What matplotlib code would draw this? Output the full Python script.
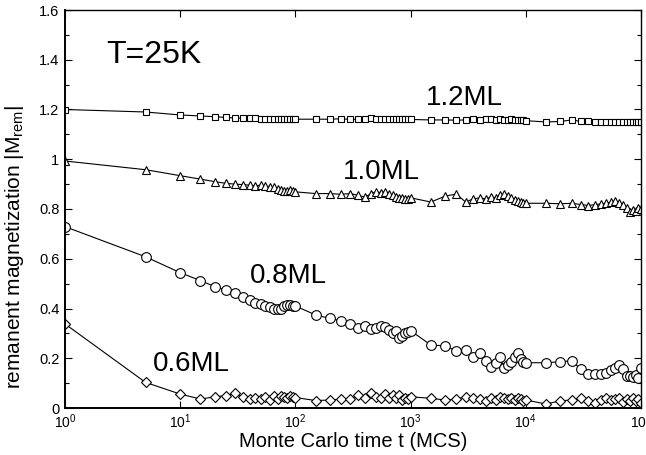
import matplotlib
matplotlib.use("Agg")
import matplotlib.pyplot as plt
from matplotlib.ticker import MultipleLocator, FuncFormatter, LogLocator, NullLocator

plt.rcParams['font.family'] = ['Liberation Sans', 'DejaVu Sans']
plt.rcParams['mathtext.fontset'] = 'custom'
plt.rcParams['mathtext.rm'] = 'Liberation Sans'
plt.rcParams['mathtext.it'] = 'Liberation Sans:italic'
plt.rcParams['mathtext.bf'] = 'Liberation Sans:bold'

# Monte Carlo time (MCS)
t = [1, 5, 10, 15, 20, 25, 30, 35, 40, 45, 50, 55, 60, 65, 70, 75, 80, 85, 90, 95, 100,
     150, 200, 250, 300, 350, 400, 450, 500, 550, 600, 650, 700, 750, 800, 850, 900, 950, 1000,
     1500, 2000, 2500, 3000, 3500, 4000, 4500, 5000, 5500, 6000, 6500, 7000, 7500, 8000, 8500, 9000, 9500, 10000,
     15000, 20000, 25000, 30000, 35000, 40000, 45000, 50000, 55000, 60000, 65000, 70000, 75000, 80000, 85000, 90000, 95000, 100000]

m12 = [1.200, 1.190, 1.178, 1.174, 1.171, 1.168, 1.166, 1.165, 1.164, 1.164, 1.163, 1.163, 1.162, 1.163, 1.162, 1.161, 1.162, 1.162, 1.161, 1.162, 1.161,
       1.161, 1.161, 1.163, 1.160, 1.161, 1.160, 1.166, 1.162, 1.161, 1.160, 1.162, 1.161, 1.160, 1.162, 1.161, 1.160, 1.161, 1.160,
       1.158, 1.158, 1.157, 1.158, 1.160, 1.158, 1.162, 1.160, 1.158, 1.160, 1.159, 1.157, 1.160, 1.158, 1.156, 1.157, 1.158, 1.155,
       1.150, 1.152, 1.158, 1.152, 1.152, 1.150, 1.150, 1.149, 1.151, 1.150, 1.149, 1.150, 1.148, 1.150, 1.149, 1.150, 1.148, 1.150]

m10 = [0.993, 0.958, 0.934, 0.920, 0.910, 0.903, 0.900, 0.898, 0.896, 0.893, 0.896, 0.892, 0.890, 0.887, 0.881, 0.876, 0.873, 0.873, 0.875, 0.872, 0.869,
       0.862, 0.862, 0.859, 0.862, 0.855, 0.848, 0.860, 0.869, 0.866, 0.869, 0.862, 0.855, 0.848, 0.845, 0.843, 0.842, 0.842, 0.845,
       0.828, 0.852, 0.860, 0.828, 0.841, 0.845, 0.840, 0.848, 0.845, 0.855, 0.862, 0.852, 0.845, 0.837, 0.833, 0.828, 0.825, 0.823,
       0.823, 0.821, 0.823, 0.818, 0.814, 0.818, 0.820, 0.823, 0.828, 0.832, 0.826, 0.816, 0.804, 0.786, 0.796, 0.790, 0.804, 0.800]

m08 = [0.729, 0.608, 0.544, 0.512, 0.488, 0.474, 0.464, 0.445, 0.434, 0.423, 0.418, 0.410, 0.405, 0.400, 0.397, 0.400, 0.410, 0.415, 0.415, 0.410, 0.410,
       0.374, 0.360, 0.350, 0.336, 0.320, 0.331, 0.318, 0.320, 0.331, 0.325, 0.315, 0.300, 0.310, 0.280, 0.290, 0.300, 0.305, 0.311,
       0.253, 0.250, 0.229, 0.233, 0.206, 0.222, 0.190, 0.164, 0.180, 0.206, 0.160, 0.173, 0.186, 0.204, 0.222, 0.196, 0.186, 0.182,
       0.182, 0.186, 0.190, 0.156, 0.137, 0.137, 0.137, 0.142, 0.153, 0.160, 0.173, 0.156, 0.129, 0.129, 0.126, 0.133, 0.119, 0.160]

m06 = [0.338, 0.103, 0.056, 0.036, 0.045, 0.050, 0.059, 0.045, 0.038, 0.042, 0.035, 0.045, 0.032, 0.048, 0.038, 0.050, 0.045, 0.040, 0.048, 0.045, 0.042,
       0.030, 0.032, 0.036, 0.036, 0.052, 0.042, 0.059, 0.045, 0.042, 0.055, 0.042, 0.052, 0.039, 0.052, 0.032, 0.042, 0.035, 0.045,
       0.039, 0.032, 0.036, 0.045, 0.039, 0.035, 0.029, 0.039, 0.032, 0.045, 0.039, 0.035, 0.042, 0.032, 0.042, 0.035, 0.029, 0.032,
       0.016, 0.029, 0.032, 0.039, 0.029, 0.021, 0.032, 0.039, 0.032, 0.035, 0.039, 0.025, 0.035, 0.029, 0.039, 0.029, 0.035, 0.021]

fig = plt.figure(figsize=(6.46, 4.55), dpi=100)
ax = fig.add_axes([65/646, 47/455, 576/646, 398/455])

common = dict(color='black', lw=0.8, mfc='white', mec='black', mew=0.8)
ax.plot(t, m12, marker='s', ms=5, **common)
ax.plot(t, m10, marker='^', ms=6, **common)
ax.plot(t, m08, marker='o', ms=7, **common)
ax.plot(t, m06, marker='D', ms=4.8, **common)

ax.set_xscale('log')
ax.set_xlim(1, 1e5)
ax.set_ylim(0, 1.6)
ax.xaxis.set_major_locator(LogLocator(base=10, numticks=10))
ax.xaxis.set_minor_locator(NullLocator())
ax.yaxis.set_major_locator(MultipleLocator(0.2))
ax.yaxis.set_minor_locator(MultipleLocator(0.1))
ax.yaxis.set_major_formatter(FuncFormatter(lambda v, p: '%g' % round(v, 3)))

ax.tick_params(which='both', direction='in', top=True, right=True, width=0.8)
ax.tick_params(axis='y', labelsize=10.5, pad=4)
ax.tick_params(axis='x', labelsize=10, pad=3)
ax.tick_params(which='major', length=5)
ax.tick_params(which='minor', length=3)
for s in ax.spines.values():
    s.set_linewidth(1.0)
ax.spines['left'].set_linewidth(1.4)
ax.spines['bottom'].set_linewidth(1.4)

ax.set_xlabel('Monte Carlo time t (MCS)', fontsize=14.5)
ax.xaxis.set_label_coords(0.5, -0.06)
ax.set_ylabel('remanent magnetization |M$_{\\rm rem}$|', fontsize=15)
ax.yaxis.set_label_coords(-0.068, 0.405)

ax.text(2.3, 1.42, 'T=25K', fontsize=23, ha='left', va='center')
ax.text(1350, 1.246, '1.2ML', fontsize=20, ha='left', va='center')
ax.text(260, 0.949, '1.0ML', fontsize=20, ha='left', va='center')
ax.text(40.5, 0.529, '0.8ML', fontsize=20, ha='left', va='center')
ax.text(5.8, 0.175, '0.6ML', fontsize=20, ha='left', va='center')

fig.savefig('out.png', dpi=100)
